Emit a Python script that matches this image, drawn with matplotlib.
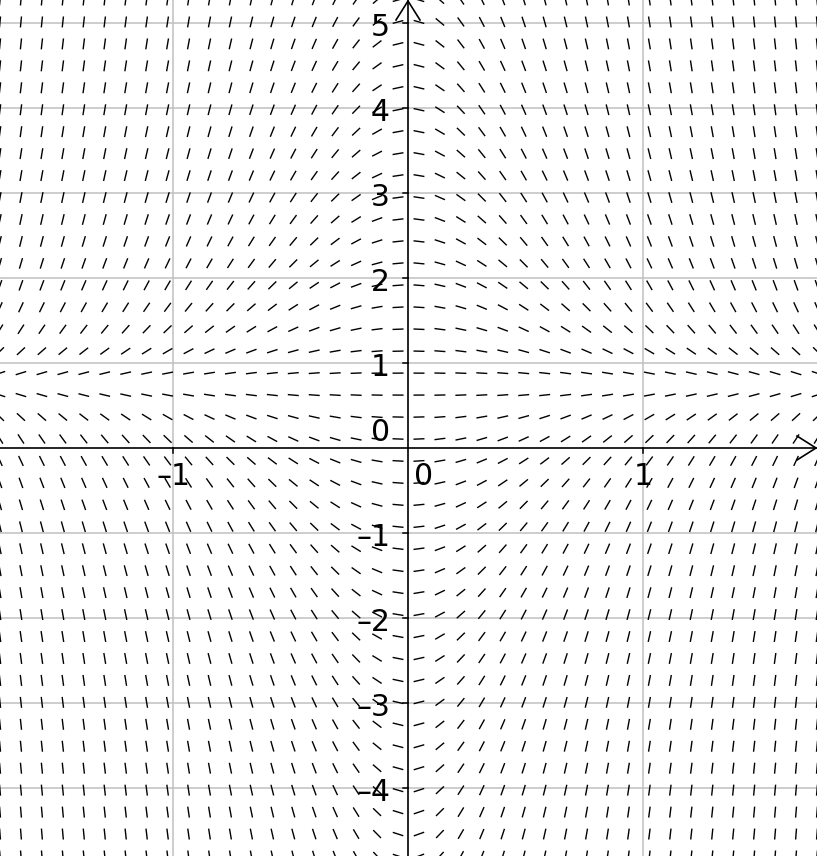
import numpy as np
import matplotlib
matplotlib.use("Agg")
import matplotlib.pyplot as plt
from matplotlib.collections import LineCollection

# ---- data ----
# slope field dy/dx = x * (a - b*y)
coef_a = 3.0
coef_b = 4.0
n_cells = 39                      # grid intervals in each direction
x_view = [-1.7362, 1.7404]
y_view = [-4.8, 5.2706]
x_ticks = [-1, 0, 1]
x_tick_labels = ["–1", "0", "1"]
y_ticks = [-4, -3, -2, -1, 0, 1, 2, 3, 4, 5]
y_tick_labels = ["–4", "–3", "–2", "–1", "0", "1", "2", "3", "4", "5"]

W, H = 817, 856
fig = plt.figure(figsize=(W / 100, H / 100), dpi=100)
ax = fig.add_axes([0, 0, 1, 1])
ax.set_xlim(*x_view)
ax.set_ylim(*y_view)
ax.axis("off")

sx = W / (x_view[1] - x_view[0])   # px per unit
sy = H / (y_view[1] - y_view[0])

# grid lines
grid_c = "#c0c0c0"
for xv in x_ticks:
    if xv != 0:
        ax.axvline(xv, color=grid_c, lw=1.1, zorder=1)
for yv in y_ticks:
    if yv != 0:
        ax.axhline(yv, color=grid_c, lw=1.1, zorder=1)

# slope field
xs = np.linspace(x_view[0], x_view[1], n_cells + 1)
ys = np.linspace(y_view[0], y_view[1], n_cells + 1)
X, Y = np.meshgrid(xs, ys)
M = X * (coef_a - coef_b * Y)
ang = np.arctan2(M * sy, sx)
L = 11.0
dxh = 0.5 * L * np.cos(ang) / sx
dyh = 0.5 * L * np.sin(ang) / sy
segs = np.stack([np.stack([X - dxh, Y - dyh], -1),
                 np.stack([X + dxh, Y + dyh], -1)], -2).reshape(-1, 2, 2)
ax.add_collection(LineCollection(segs, colors="black", linewidths=1.0, zorder=2))

# axes
ax.plot([x_view[0], x_view[1]], [0, 0], color="black", lw=1.2, zorder=3)
ax.plot([0, 0], [y_view[0], y_view[1]], color="black", lw=1.2, zorder=3)
# arrowheads
ah_l, ah_w = 20, 12
ax.plot([x_view[1] - ah_l / sx, x_view[1] - 1 / sx, x_view[1] - ah_l / sx],
        [ah_w / sy, 0, -ah_w / sy], color="black", lw=1.2, zorder=3)
ax.plot([-ah_w / sx, 0, ah_w / sx],
        [y_view[1] - ah_l / sy, y_view[1] - 1 / sy, y_view[1] - ah_l / sy],
        color="black", lw=1.2, zorder=3)

# ticks
tk = 5
for xv in x_ticks:
    if xv != 0:
        ax.plot([xv, xv], [0, -tk / sy], color="black", lw=1.1, zorder=3)
for yv in y_ticks:
    if yv != 0:
        ax.plot([-tk / sx, 0], [yv, yv], color="black", lw=1.1, zorder=3)

fs = 21.5
# x tick labels
for xv, lab in zip(x_ticks, x_tick_labels):
    xp = xv if xv != 0 else 16 / sx
    ax.text(xp, -14 / sy, lab, ha="center", va="top", fontsize=fs, zorder=4)
# y tick labels
for yv, lab in zip(y_ticks, y_tick_labels):
    if yv == 0:
        ax.text(-18 / sx, 1 / sy, lab, ha="right", va="bottom", fontsize=fs, zorder=4)
    else:
        ax.text(-18 / sx, yv - 4 / sy, lab, ha="right", va="center", fontsize=fs, zorder=4)

fig.savefig("out.png", dpi=100)
